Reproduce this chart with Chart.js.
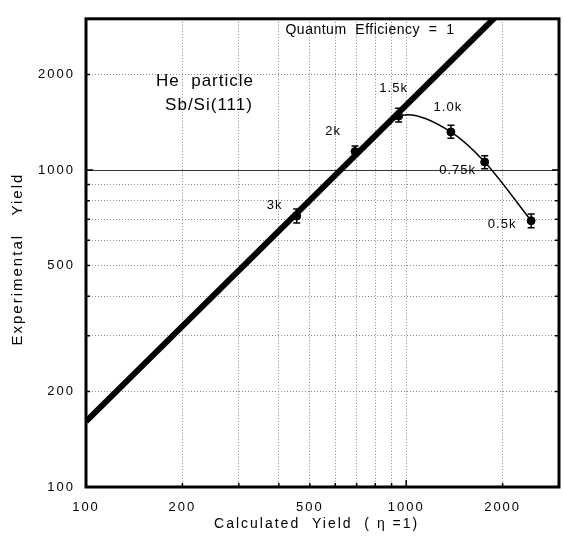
<!DOCTYPE html>
<html>
<head>
<meta charset="utf-8">
<script src="https://cdn.jsdelivr.net/npm/chart.js@4.4.0/dist/chart.umd.min.js"></script>
<style>
  body { margin: 0; background: #fff; }
  canvas { display: block; }
</style>
</head>
<body>
<canvas id="yieldChart" width="564" height="545"></canvas>
<script>
// measured points, labelled by beam energy
const energyLabels = ['3k', '2k', '1.5k', '1.0k', '0.75k', '0.5k'];
const calcYield = [455, 692, 947, 1379, 1758, 2455];
const expYield = [716, 1144, 1480, 1319, 1060, 692];
const errLow = [681, 1109, 1417, 1259, 1010, 657];
const errHigh = [753, 1191, 1567, 1384, 1109, 727];

// hand-drawn guide curve past the knee
const curveX = [947, 1010, 1379, 1758, 2455];
const curveY = [1480, 1495, 1319, 1060, 692];

// quantum efficiency = 1 line
const qeX = [100, 2000];
const qeY = [161, 3200];

const gridValues = [100, 200, 300, 400, 500, 600, 700, 800, 900, 1000, 2000];
const tickLabels = [100, 200, 500, 1000, 2000];

const FONT = '"Liberation Sans", Arial, Helvetica, sans-serif';

function toXY(xs, ys) {
    return xs.map((x, i) => ({ x: x, y: ys[i] }));
}

function setTicks(scale) {
    scale.ticks = gridValues.filter(v => v >= scale.min && v < scale.max).map(v => ({ value: v }));
}

const decor = {
    id: 'decor',
    beforeDraw(chart) {
        chart.ctx.letterSpacing = '2px';
    },
    afterDraw(chart) {
        const ctx = chart.ctx;
        const x = chart.scales.x, y = chart.scales.y;
        const area = chart.chartArea;
        ctx.save();
        ctx.strokeStyle = '#000';
        ctx.fillStyle = '#000';

        // error bars
        ctx.lineWidth = 1.5;
        calcYield.forEach((cx, i) => {
            const px = x.getPixelForValue(cx);
            const top = y.getPixelForValue(errHigh[i]);
            const bot = y.getPixelForValue(errLow[i]);
            ctx.beginPath();
            ctx.moveTo(px, top); ctx.lineTo(px, bot);
            ctx.moveTo(px - 3.5, top); ctx.lineTo(px + 3.5, top);
            ctx.moveTo(px - 3.5, bot); ctx.lineTo(px + 3.5, bot);
            ctx.stroke();
        });

        // inward tick marks
        ctx.lineWidth = 1.5;
        ctx.beginPath();
        gridValues.forEach(v => {
            const len = v === 1000 ? 7 : 4;
            const px = x.getPixelForValue(v);
            const py = y.getPixelForValue(v);
            if (v > 100) {
                ctx.moveTo(px, area.bottom); ctx.lineTo(px, area.bottom - len);
                ctx.moveTo(area.left, py); ctx.lineTo(area.left + len, py);
                ctx.moveTo(area.right, py); ctx.lineTo(area.right - len, py);
            }
        });
        ctx.stroke();

        // frame
        ctx.lineWidth = 3;
        ctx.strokeRect(area.left, area.top, area.right - area.left, area.bottom - area.top);

        // point labels
        const offsets = [[-22, -11], [-22, -20], [-5, -28], [-3, -24], [-27, 8], [-29, 4]];
        ctx.letterSpacing = '1px';
        ctx.font = '13px ' + FONT;
        ctx.textAlign = 'center';
        ctx.textBaseline = 'middle';
        energyLabels.forEach((t, i) => {
            const px = x.getPixelForValue(calcYield[i]);
            const py = y.getPixelForValue(expYield[i]);
            ctx.fillText(t, px + offsets[i][0], py + offsets[i][1]);
        });

        // annotations
        ctx.letterSpacing = '0.5px';
        ctx.font = '14px ' + FONT;
        ctx.fillText('Quantum  Efficiency  =  1', 370, 30);
        ctx.letterSpacing = '1px';
        ctx.font = '17px ' + FONT;
        ctx.fillText('He  particle', 205, 81);
        ctx.fillText('Sb/Si(111)', 209, 105);
        ctx.restore();
    }
};

new Chart(document.getElementById('yieldChart'), {
    type: 'scatter',
    data: {
        datasets: [{
            label: 'Quantum Efficiency = 1',
            data: toXY(qeX, qeY),
            showLine: true,
            borderColor: '#000',
            borderWidth: 6,
            pointRadius: 0,
            clip: 0
        }, {
            label: 'guide',
            data: toXY(curveX, curveY),
            showLine: true,
            borderColor: '#000',
            borderWidth: 1.5,
            cubicInterpolationMode: 'monotone',
            pointRadius: 0
        }, {
            label: 'Experimental Yield',
            data: toXY(calcYield, expYield),
            showLine: false,
            pointRadius: 4,
            backgroundColor: '#000',
            borderColor: '#000'
        }]
    },
    options: {
        responsive: false,
        animation: false,
        events: [],
        layout: { padding: { top: 12, right: 2, left: 0, bottom: 0 } },
        plugins: { legend: { display: false }, tooltip: { enabled: false } },
        scales: {
            x: {
                type: 'logarithmic',
                min: 100,
                max: 3000,
                afterBuildTicks: setTicks,
                afterFit: s => { s.height = 58; },
                grid: { color: '#888', lineWidth: 1, drawTicks: false },
                border: { display: false, dash: [1, 2] },
                ticks: {
                    color: '#000',
                    padding: 13,
                    autoSkip: false,
                    maxRotation: 0,
                    font: { family: FONT, size: 13 },
                    callback: v => tickLabels.includes(v) ? String(v) : ''
                },
                title: {
                    display: true,
                    text: 'Calculated  Yield  ( η =1)  ',
                    color: '#000',
                    font: { family: FONT, size: 14 },
                    padding: { top: 0, bottom: 12 }
                }
            },
            y: {
                type: 'logarithmic',
                min: 100,
                max: 3000,
                afterBuildTicks: setTicks,
                afterFit: s => { s.width = 86; },
                grid: {
                    color: c => c.tick && c.tick.value === 1000 ? '#333' : '#888',
                    lineWidth: 1,
                    drawTicks: false
                },
                border: {
                    display: false,
                    dash: c => c.tick && c.tick.value === 1000 ? [] : [1, 2]
                },
                ticks: {
                    color: '#000',
                    padding: 11,
                    autoSkip: false,
                    font: { family: FONT, size: 13 },
                    callback: v => tickLabels.includes(v) ? String(v) : ''
                },
                title: {
                    display: true,
                    text: 'Experimental   Yield  ',
                    color: '#000',
                    font: { family: FONT, size: 15 },
                    padding: { top: 9, bottom: 0 }
                }
            }
        }
    },
    plugins: [decor]
});
</script>
</body>
</html>
